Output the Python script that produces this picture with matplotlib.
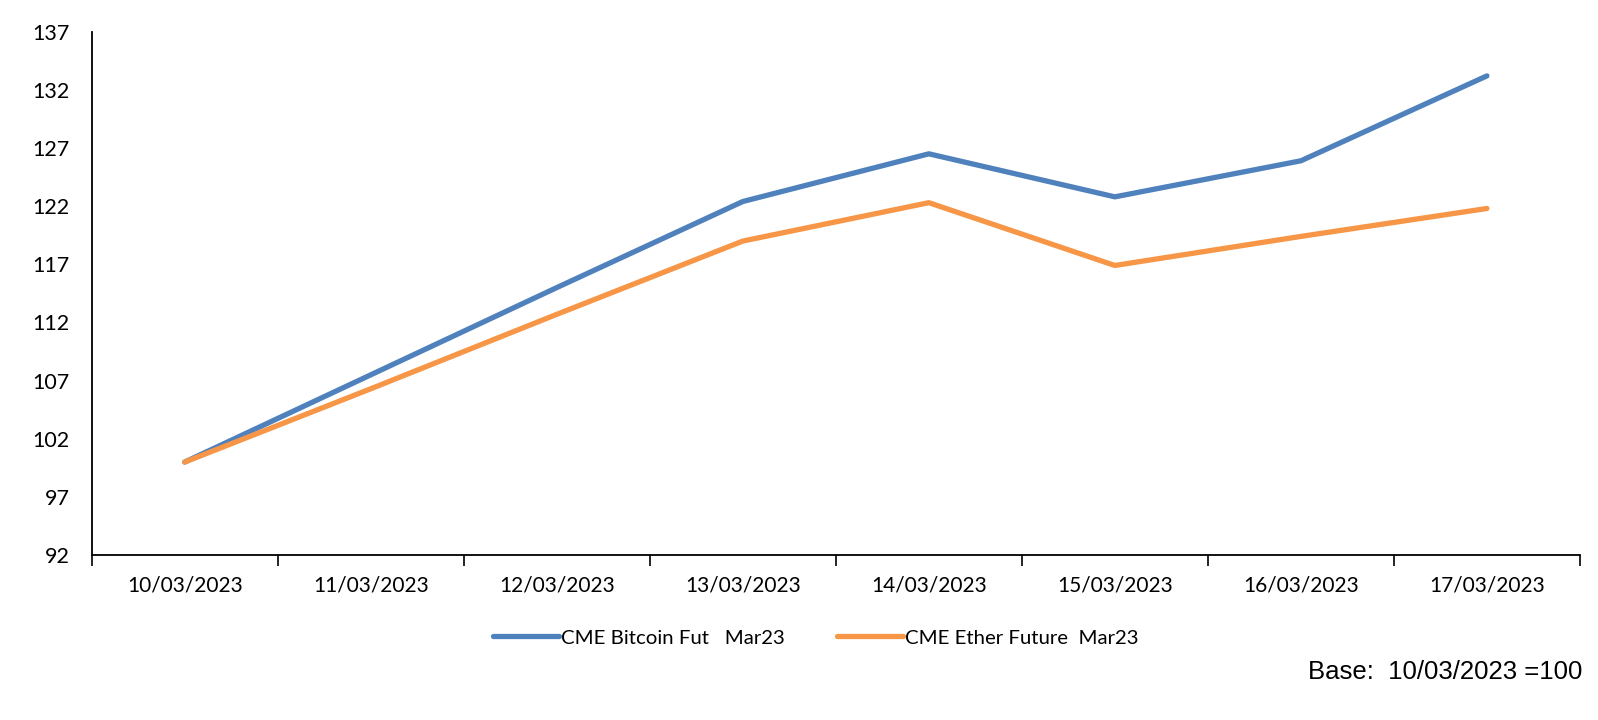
import matplotlib
matplotlib.use("Agg")
import matplotlib.pyplot as plt
from matplotlib.ticker import FixedLocator

dates = ["10/03/2023", "11/03/2023", "12/03/2023", "13/03/2023",
         "14/03/2023", "15/03/2023", "16/03/2023", "17/03/2023"]
bitcoin = [100.0, 107.5, 115.0, 122.4, 126.5, 122.8, 125.9, 133.2]
ether = [100.0, 106.3, 112.7, 119.0, 122.3, 116.9, 119.4, 121.8]
y_ticks = [92, 97, 102, 107, 112, 117, 122, 127, 132, 137]
series_names = ["CME Bitcoin Fut   Mar23", "CME Ether Future  Mar23"]
note = "Base:  10/03/2023 =100"

plt.rcParams['font.family'] = ['Lato', 'DejaVu Sans']

fig = plt.figure(figsize=(15.98, 7.2), dpi=100)
ax = fig.add_axes([0.0574, 0.229, 0.9313, 0.727])

x = list(range(len(dates)))
ax.plot(x, bitcoin, color='#4f81bd', lw=3.8, solid_capstyle='round', label=series_names[0])
ax.plot(x, ether, color='#f79646', lw=3.8, solid_capstyle='round', label=series_names[1])

ax.set_xlim(-0.5, len(dates) - 0.5)
ax.set_ylim(y_ticks[0], y_ticks[-1])
ax.yaxis.set_major_locator(FixedLocator(y_ticks))
ax.tick_params(axis='y', length=0, labelsize=15.5, pad=16)
ax.set_xticks(x)
ax.set_xticklabels(dates)
ax.tick_params(axis='x', which='major', length=0, labelsize=15, pad=15)
ax.xaxis.set_minor_locator(FixedLocator([i - 0.5 for i in range(len(dates) + 1)]))
ax.tick_params(axis='x', which='minor', length=8, width=1.2, direction='out')

for s in ['top', 'right']:
    ax.spines[s].set_visible(False)
for s in ['left', 'bottom']:
    ax.spines[s].set_linewidth(1.3)

leg = fig.legend(loc='center', bbox_to_anchor=(0.5105, 0.114), ncol=2, frameon=False,
                 fontsize=14.7, handlelength=3.2, handletextpad=0.1, columnspacing=2.6)

fig.text(0.9905, 0.066, note, ha='right', va='center', fontsize=18.5,
         family=['Liberation Sans', 'DejaVu Sans'])

fig.savefig("out.png", dpi=100)
